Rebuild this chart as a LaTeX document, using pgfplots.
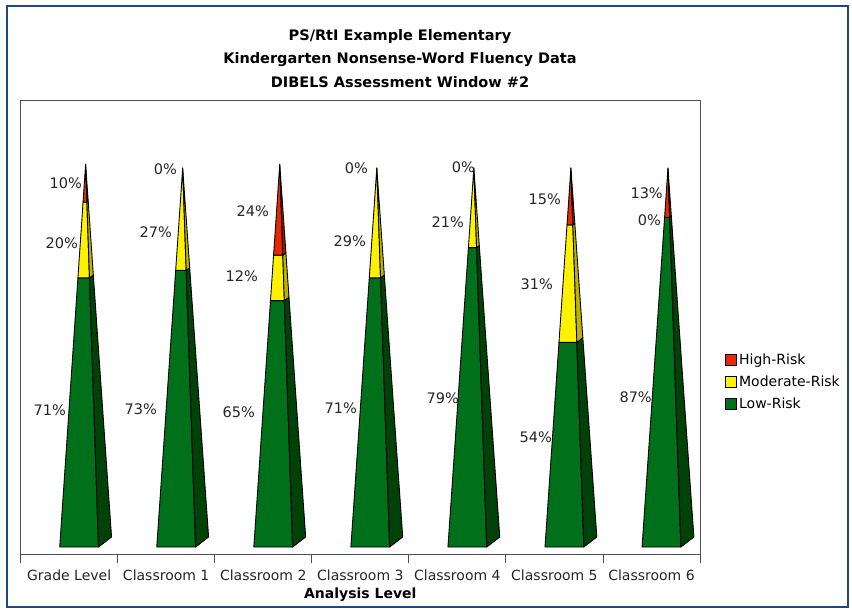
\documentclass[border=0pt]{standalone}
\usepackage{fontspec}
\setmainfont{DejaVu Sans}
\usepackage{pgfplots}
\usepackage{pgfplotstable}
\pgfplotsset{compat=1.18}

\definecolor{lowF}{RGB}{0,112,26}
\definecolor{lowS}{RGB}{0,66,8}
\definecolor{modF}{RGB}{255,242,0}
\definecolor{modS}{RGB}{190,180,0}
\definecolor{highF}{RGB}{232,40,0}
\definecolor{highS}{RGB}{160,25,0}
\definecolor{frameblue}{RGB}{31,73,125}
\definecolor{boxgray}{RGB}{80,80,80}

\newcommand\tickfont{\fontsize{14}{16.8}\selectfont}
\newcommand\lblfont{\fontsize{14.5}{17}\selectfont}
\newcommand\titlefont{\fontsize{14.5}{17}\selectfont\bfseries}

% values (percent) per analysis level
\pgfplotstableread{
cat low mod high
0 71 20 10
1 73 27 0
2 65 12 24
3 71 29 0
4 79 21 0
5 54 31 15
6 87 0 13
}\pyrdata

% data labels: right edge x, centre y, value
\pgfplotstableread{
x y lab
1.1326 96.0 10
1.0914 80.2 20
0.9678 36.1 71
2.1114 99.7 0
2.0599 83.1 27
1.9054 36.4 73
3.0592 88.7 24
2.9459 71.5 12
2.9150 35.6 65
4.0793 100.0 0
4.0587 80.7 29
3.9660 36.7 71
5.1817 100.3 0
5.0684 85.8 21
5.0169 39.3 79
6.0677 91.8 15
5.9853 69.4 31
5.9750 29.0 54
7.1186 93.4 13
7.0980 86.1 0
7.0052 39.6 87
}\labdata

\def\hw{0.2}
\def\ddx{0.134}
\def\ddy{2.64}
\newcommand\mklevel[4]{% #1 name, #2 front centre, #3 total, #4 value
  \pgfmathsetmacro\tmpt{#4/#3}%
  \pgfmathsetmacro\tmpa{#2-\hw+\tmpt*(\hw+\ddx/2)}\expandafter\let\csname FL#1\endcsname\tmpa
  \pgfmathsetmacro\tmpb{#2+\hw+\tmpt*(\ddx/2-\hw)}\expandafter\let\csname FR#1\endcsname\tmpb
  \pgfmathsetmacro\tmpc{#2+\hw+\ddx-\tmpt*(\hw+\ddx/2)}\expandafter\let\csname BR#1\endcsname\tmpc
  \pgfmathsetmacro\tmpd{\ddy+\tmpt*(#3-\ddy)}\expandafter\let\csname BY#1\endcsname\tmpd
  \pgfmathsetmacro\tmpe{#4}\expandafter\let\csname V#1\endcsname\tmpe
}
\newcommand\mkseg[4]{% #1 lower level, #2 upper level, #3 front colour, #4 side colour
  \edef\tmpcmd{%
    \noexpand\addplot[forget plot, fill=#3, draw=black, line width=0.9pt, line join=round]
      coordinates {(\csname FL#1\endcsname,\csname V#1\endcsname)
                   (\csname FR#1\endcsname,\csname V#1\endcsname)
                   (\csname FR#2\endcsname,\csname V#2\endcsname)
                   (\csname FL#2\endcsname,\csname V#2\endcsname)} -- cycle;
    \noexpand\addplot[forget plot, fill=#4, draw=black, line width=0.9pt, line join=round]
      coordinates {(\csname FR#1\endcsname,\csname V#1\endcsname)
                   (\csname BR#1\endcsname,\csname BY#1\endcsname)
                   (\csname BR#2\endcsname,\csname BY#2\endcsname)
                   (\csname FR#2\endcsname,\csname V#2\endcsname)} -- cycle;
  }\tmpcmd
}

\begin{document}
\begin{tikzpicture}[x=1pt,y=1pt]
\useasboundingbox (0,0) rectangle (852,-611);
\fill[white] (0,0) rectangle (852,-611);
\draw[frameblue, line width=1.6pt] (7,-6) rectangle (848,-607);

\node[font=\titlefont] at (400,-37) {PS/RtI Example Elementary};
\node[font=\titlefont] at (400,-60) {Kindergarten Nonsense-Word Fluency Data};
\node[font=\titlefont] at (400,-82) {DIBELS Assessment Window \#2};

\begin{axis}[
  at={(20.6pt,-554pt)}, anchor=south west,
  scale only axis, width=679.4pt, height=454pt,
  xmin=0.5, xmax=7.5, ymin=-1.847, ymax=117.94,
  axis line style={draw=boxgray, line width=0.8pt},
  xtick={1,...,7},
  xticklabels={Grade Level,Classroom 1,Classroom 2,Classroom 3,Classroom 4,Classroom 5,Classroom 6},
  minor xtick={0.5,1.5,...,7.5},
  major tick length=0pt, minor tick length=9pt,
  tick align=outside, xtick pos=left, ytick=\empty,
  minor tick style={draw=boxgray, line width=0.8pt},
  xticklabel style={anchor=center, yshift=-21pt, font=\tickfont, text=black!85},
  xlabel={\textbf{Analysis Level}},
  xlabel style={at={(axis description cs:0.5,0)}, anchor=center, yshift=-41pt, font=\tickfont},
  clip=false,
  legend style={at={(1.037,0.379)}, anchor=west, draw=none, fill=none, font=\tickfont,
    inner sep=0pt, row sep=5.5pt, /tikz/every even column/.append style={column sep=3pt}},
  legend cell align=left,
  legend image code/.code={\draw[#1, draw=black, line width=0.8pt] (0pt,-5.5pt) rectangle (11pt,5.5pt);},
]
\pgfplotsforeachungrouped \ri in {0,...,6}{%
  \pgfplotstablegetelem{\ri}{low}\of\pyrdata \let\vL\pgfplotsretval
  \pgfplotstablegetelem{\ri}{mod}\of\pyrdata \let\vM\pgfplotsretval
  \pgfplotstablegetelem{\ri}{high}\of\pyrdata \let\vH\pgfplotsretval
  \pgfmathsetmacro\fc{\ri+1+0.103}%
  \pgfmathsetmacro\vT{\vL+\vM+\vH}%
  \pgfmathsetmacro\vLM{\vL+\vM}%
  \mklevel{a}{\fc}{\vT}{0}%
  \mklevel{b}{\fc}{\vT}{\vL}%
  \mklevel{c}{\fc}{\vT}{\vLM}%
  \mklevel{d}{\fc}{\vT}{\vT}%
  \mkseg{a}{b}{lowF}{lowS}%
  \mkseg{b}{c}{modF}{modS}%
  \mkseg{c}{d}{highF}{highS}%
}
\addplot[forget plot, only marks, mark=*, mark size=0pt, mark options={draw=none, fill=none},
  nodes near coords={\pgfplotspointmeta\%}, point meta=explicit symbolic,
  nodes near coords style={anchor=east, inner sep=0pt, font=\lblfont, text=black!85}]
  table[x=x, y=y, meta=lab] {\labdata};
\addlegendimage{fill=highF}\addlegendentry{High-Risk}
\addlegendimage{fill=modF}\addlegendentry{Moderate-Risk}
\addlegendimage{fill=lowF}\addlegendentry{Low-Risk}
\end{axis}
\end{tikzpicture}
\end{document}
